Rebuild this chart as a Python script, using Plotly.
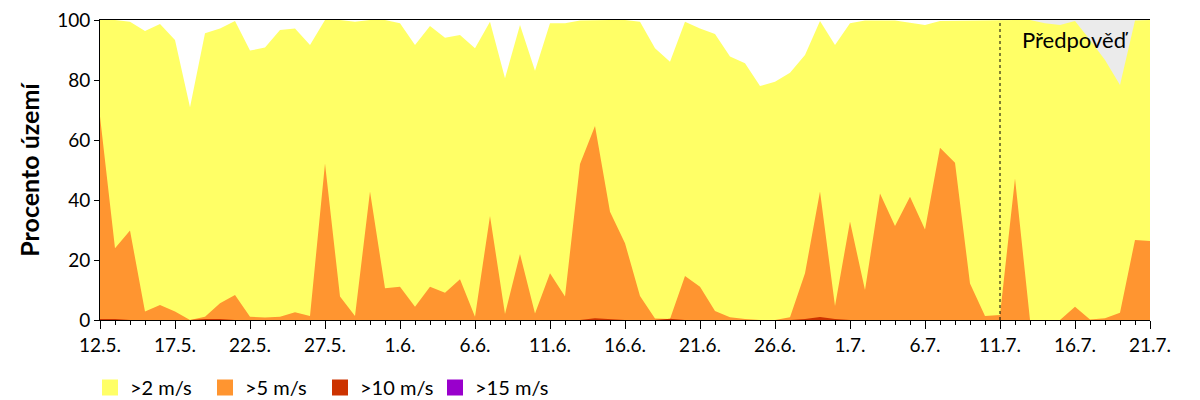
import pandas as pd
import plotly.graph_objects as go

start_date = "2024-05-12"
n_days = 71
dates = pd.date_range(start_date, periods=n_days, freq="D")

over2 = [100, 100, 99.4, 96.3, 98.7, 93.3, 70.9, 95.6, 97.2, 99.7,
         89.8, 90.8, 96.7, 97.2, 91.7, 100, 100, 99.4, 100, 100,
         98.9, 91.7, 98, 94.1, 95, 90.6, 99.4, 80.6, 98.3, 83.1,
         98.9, 98.9, 99.8, 100, 100, 100, 99.4, 90.6, 86.1, 99.4,
         97.2, 95.3, 87.8, 85.6, 78, 79.4, 82.4, 88.3, 99.7, 91.7,
         98.9, 99.8, 99.8, 99.8, 99.1, 98.3, 99.7, 99.8, 99.8, 99.8,
         100, 100, 100, 98.9, 98.3, 99.7, 93.3, 86.7, 78.3, 99.8, 100]
over5 = [67.8, 23.9, 29.8, 2.8, 5, 2.8, 0, 1.1, 5.6, 8.3,
         1.1, 0.8, 1.1, 2.6, 1.3, 52.2, 7.8, 1.3, 42.8, 10.6,
         11.1, 4.4, 11.1, 9.1, 13.6, 1.1, 34.7, 2, 22, 2.2,
         15.6, 7.8, 52, 64.7, 36.1, 25.6, 8, 0.5, 0.3, 14.7,
         11.1, 3, 0.9, 0.3, 0, 0, 0.9, 15.6, 42.8, 4.7,
         32.8, 10, 42.2, 31.3, 41.1, 30.2, 57.4, 52.4, 12.2, 1.3,
         1.7, 47.2, 0, 0, 0, 4.4, 0.2, 0.6, 2.4, 26.7, 26.3]
over10 = [0.3, 0.3, 0, 0, 0, 0, 0, 0.3, 0.3, 0,
          0, 0, 0, 0, 0, 0, 0, 0, 0, 0,
          0, 0, 0, 0, 0, 0, 0, 0, 0, 0,
          0, 0, 0, 0.6, 0.3, 0, 0, 0, 0.4, 0,
          0, 0, 0, 0, 0, 0, 0, 0.3, 1.0, 0.3,
          0, 0, 0, 0, 0, 0, 0, 0, 0, 0,
          0, 0, 0, 0, 0, 0, 0, 0, 0, 0, 0]
over15 = [0] * n_days

series_names = [">2 m/s", ">5 m/s", ">10 m/s", ">15 m/s"]
series_colors = ["#ffff66", "#ff9530", "#cc3300", "#9900cc"]
tick_dates = pd.date_range(start_date, periods=15, freq="5D")
tick_labels = ["12.5.", "17.5.", "22.5.", "27.5.", "1.6.", "6.6.", "11.6.", "16.6.",
               "21.6.", "26.6.", "1.7.", "6.7.", "11.7.", "16.7.", "21.7."]
forecast_start = "2024-07-11"
forecast_label = "Předpověď"

font_family = "Lato, 'Open Sans', sans-serif"

fig = go.Figure()

for name, vals, col in zip(series_names, [over2, over5, over10, over15], series_colors):
    fig.add_trace(go.Scatter(
        x=dates, y=vals, mode="lines", line=dict(width=0, color=col),
        fill="tozeroy", fillcolor=col, showlegend=False, hoverinfo="skip"))

for name, col in zip(series_names, series_colors):
    fig.add_trace(go.Scatter(
        x=[None], y=[None], mode="markers", name=name,
        marker=dict(symbol="square", size=20, color=col)))

fig.add_shape(type="rect", xref="x", yref="y", x0=forecast_start, x1=dates[-1],
              y0=0, y1=100, fillcolor="#ebebeb", line=dict(width=0), layer="below")
fig.add_shape(type="line", xref="x", yref="y", x0=forecast_start, x1=forecast_start,
              y0=0, y1=100, line=dict(color="black", width=1, dash="3px,3px"),
              layer="above")
fig.add_annotation(x=dates[65], y=93.5, text=forecast_label, showarrow=False,
                   xanchor="center", yanchor="middle",
                   font=dict(family=font_family, size=22, color="black"))

fig.update_layout(
    width=1200, height=400,
    margin=dict(l=100, r=50, t=20, b=80, autoexpand=False),
    plot_bgcolor="white", paper_bgcolor="white",
    font=dict(family=font_family, size=19, color="black"),
    legend=dict(orientation="h", x=-0.0095, xanchor="left", y=-0.16, yanchor="top",
                font=dict(size=20), itemsizing="trace", bgcolor="rgba(0,0,0,0)",
                entrywidth=70, entrywidthmode="pixels"),
    xaxis=dict(
        range=[dates[0], dates[-1]], tickvals=tick_dates, ticktext=tick_labels,
        ticks="outside", ticklen=8, tickcolor="black", tickwidth=1,
        showline=True, linecolor="black", linewidth=1, mirror=True,
        showgrid=False, zeroline=False,
        minor=dict(ticks="outside", ticklen=4, tickcolor="black",
                   dtick=86400000, tick0=start_date, showgrid=False),
        tickfont=dict(size=19)),
    yaxis=dict(
        range=[0, 100], tickvals=[0, 20, 40, 60, 80, 100],
        ticks="outside", ticklen=5, tickcolor="black",
        showline=True, linecolor="black", linewidth=1,
        showgrid=False, zeroline=False, tickfont=dict(size=19),
        title=dict(text="<b>Procento území</b>", font=dict(size=25), standoff=10)),
)

fig.write_html("out.html")
